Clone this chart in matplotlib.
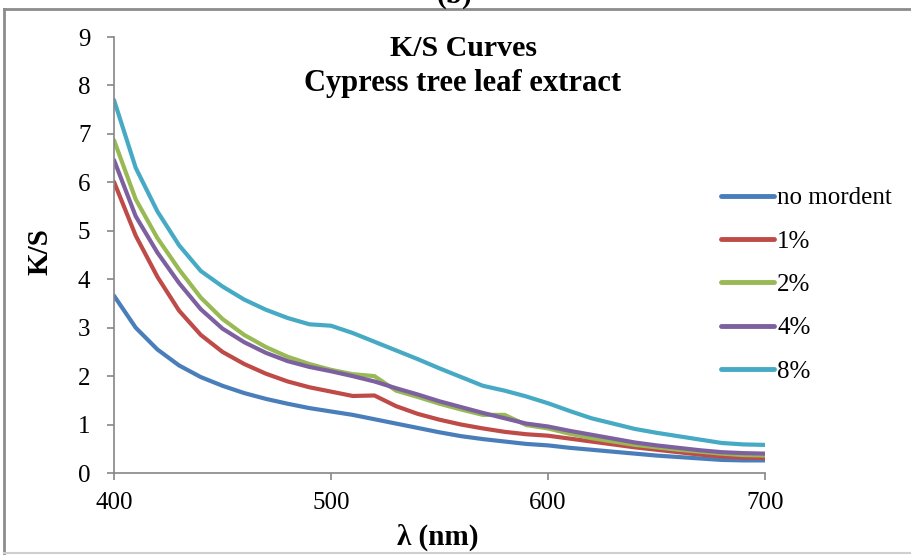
import matplotlib
matplotlib.use("Agg")
import matplotlib.pyplot as plt
from matplotlib.lines import Line2D

plt.rcParams['font.family'] = ['Liberation Serif', 'DejaVu Serif']

wavelength = list(range(400, 701, 10))

no_mordent = [3.66, 3.00, 2.55, 2.22, 1.98, 1.80, 1.65, 1.53, 1.43, 1.34, 1.27,
              1.20, 1.11, 1.02, 0.93, 0.84, 0.76, 0.70, 0.65, 0.60, 0.57,
              0.52, 0.48, 0.44, 0.40, 0.36, 0.33, 0.30, 0.27, 0.26, 0.26]
m1 = [6.01, 4.90, 4.05, 3.35, 2.85, 2.50, 2.25, 2.05, 1.89, 1.77, 1.68,
      1.59, 1.60, 1.38, 1.22, 1.10, 1.00, 0.92, 0.85, 0.80, 0.77,
      0.71, 0.65, 0.59, 0.53, 0.48, 0.43, 0.38, 0.34, 0.32, 0.31]
m2 = [6.87, 5.65, 4.85, 4.20, 3.62, 3.18, 2.85, 2.60, 2.40, 2.25, 2.13,
      2.04, 2.00, 1.70, 1.57, 1.43, 1.31, 1.20, 1.20, 0.99, 0.92,
      0.81, 0.72, 0.65, 0.58, 0.53, 0.48, 0.44, 0.40, 0.37, 0.36]
m4 = [6.46, 5.30, 4.55, 3.92, 3.38, 2.98, 2.70, 2.48, 2.31, 2.19, 2.10,
      2.00, 1.89, 1.75, 1.62, 1.48, 1.36, 1.24, 1.13, 1.02, 0.96,
      0.87, 0.79, 0.71, 0.63, 0.57, 0.52, 0.47, 0.43, 0.41, 0.40]
m8 = [7.70, 6.30, 5.40, 4.70, 4.17, 3.85, 3.58, 3.37, 3.20, 3.07, 3.04,
      2.89, 2.71, 2.53, 2.35, 2.16, 1.98, 1.80, 1.70, 1.58, 1.44,
      1.28, 1.13, 1.02, 0.91, 0.83, 0.76, 0.69, 0.62, 0.59, 0.58]

series = [no_mordent, m1, m2, m4, m8]
labels = ['no mordent', '1%', '2%', '4%', '8%']
colors = ['#4A7EBB', '#BE4B48', '#98B954', '#7D60A0', '#46AAC5']

x_ticks = [400, 500, 600, 700]
y_ticks = list(range(0, 10))

W, H = 911, 556
fig = plt.figure(figsize=(W / 100, H / 100), dpi=100)
ax = fig.add_axes([114 / W, 1 - 473 / H, (765 - 114) / W, (473 - 37) / H])

for vals, lab, c in zip(series, labels, colors):
    ax.plot(wavelength, vals, color=c, lw=3, label=lab,
            solid_capstyle='round', solid_joinstyle='round')

ax.set_xlim(400, 700)
ax.set_ylim(0, 9)
ax.set_xticks(x_ticks)
ax.set_yticks(y_ticks)
axis_col = '#868686'
for s in ['top', 'right']:
    ax.spines[s].set_visible(False)
for s in ['left', 'bottom']:
    ax.spines[s].set_color(axis_col)
    ax.spines[s].set_linewidth(1.2)
ax.tick_params(axis='both', direction='out', length=5, width=1.2, color=axis_col,
               labelsize=18, labelcolor='black')
ax.tick_params(axis='y', pad=12)
ax.tick_params(axis='x', pad=9)

fig.text(463 / W, 1 - 48 / H, 'K/S Curves', ha='center', va='center',
         fontsize=21.5, fontweight='bold')
fig.text(463 / W, 1 - 83 / H, 'Cypress tree leaf extract', ha='center', va='center',
         fontsize=22, fontweight='bold')
fig.text(40 / W, 1 - 252 / H, 'K/S', ha='center', va='center', rotation=90,
         fontsize=21, fontweight='bold')
fig.text(438 / W, 1 - 537 / H, 'λ (nm)', ha='center', va='center',
         fontsize=21, fontweight='bold')
fig.text(455 / W, 1 + 5 / H, '(b)', ha='center', va='center',
         fontsize=21, fontweight='bold')

handles = [Line2D([0], [0], color=c, lw=3.5, solid_capstyle='round') for c in colors]
leg = fig.legend(handles, labels, loc='upper left',
                 bbox_to_anchor=(721 / W, 1 - 187 / H), frameon=False,
                 fontsize=18, handlelength=2.1, handletextpad=0.15,
                 labelspacing=0.83, borderpad=0, borderaxespad=0)

# chart border
fig.add_artist(Line2D([4 / W, 4 / W], [1 - 553 / H, 1 - 9 / H], color='#8c8c8c', lw=2,
                      transform=fig.transFigure))
fig.add_artist(Line2D([4 / W, 1.0], [1 - 9 / H, 1 - 9 / H], color='#8c8c8c', lw=2,
                      transform=fig.transFigure))
fig.add_artist(Line2D([4 / W, 1.0], [1 - 553 / H, 1 - 553 / H], color='#cfcfcf', lw=1.5,
                      transform=fig.transFigure))

fig.savefig('out.png', dpi=100)
